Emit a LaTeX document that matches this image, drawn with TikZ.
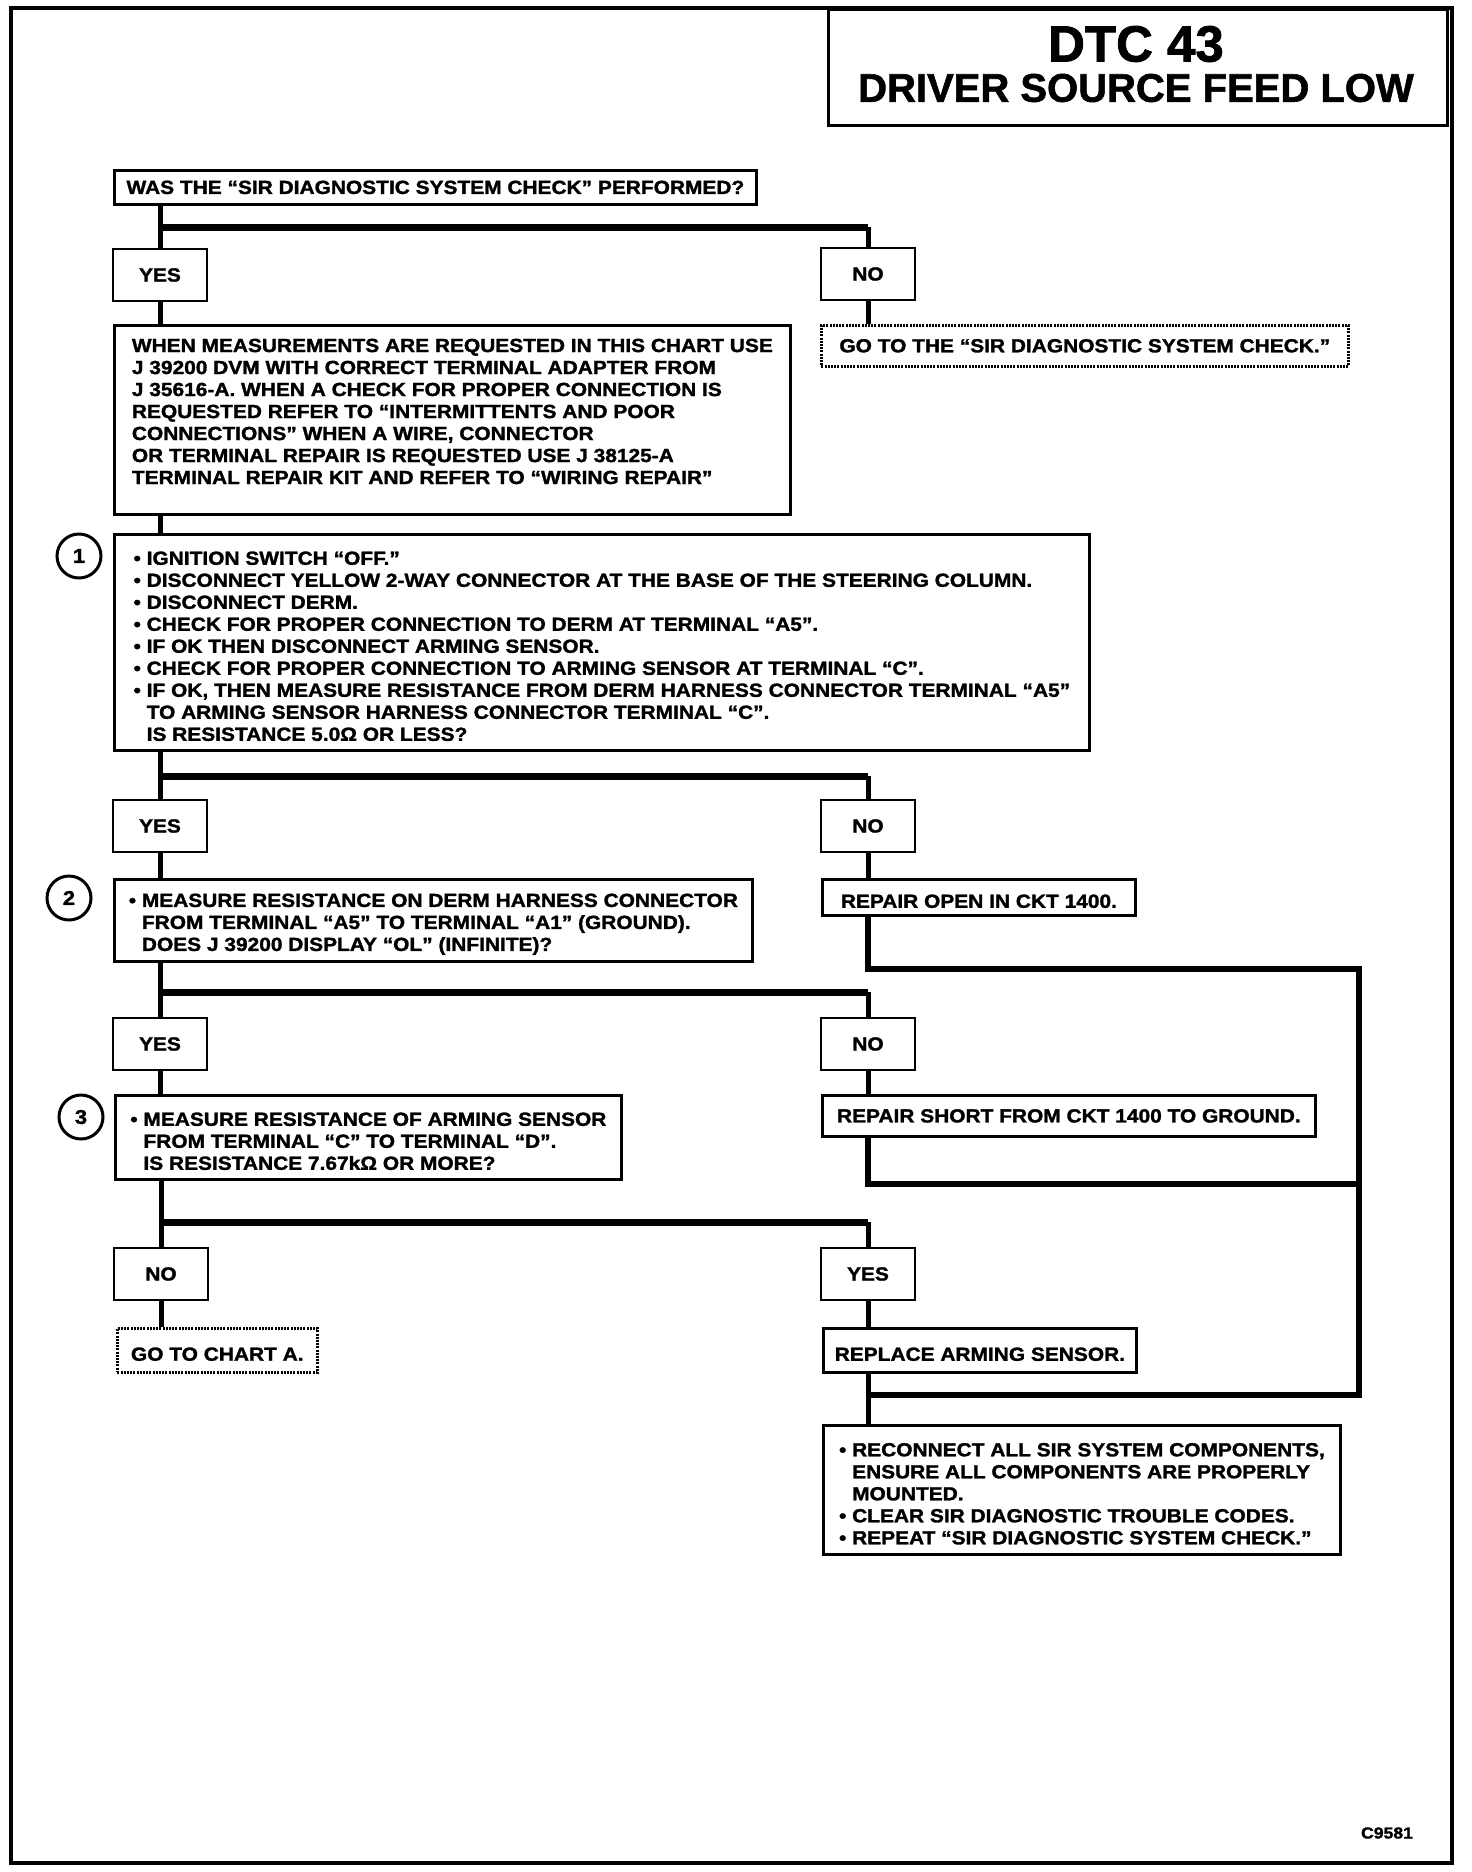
\documentclass[tikz,border=0pt]{standalone}
\usepackage{fontspec}
\setmainfont{Liberation Sans}[FakeStretch=1.1, BoldFeatures={FakeBold=1.5}]
\newfontfamily\titlefont{Liberation Sans}[BoldFeatures={FakeBold=1.5}]
\newcommand{\bul}{•\ }
\newcommand{\hang}{\hphantom{\bul}}
\newcommand{\topgap}{\rule{0pt}{21pt}}
\tikzset{
box/.style={draw, line width=2.8pt, anchor=north west, align=left, inner sep=0pt,
	font=\bfseries\fontsize{19}{22}\selectfont},
gotobox/.style={box, line width=2.6pt, dash pattern=on 2pt off 1.2pt},
answer/.style={draw, line width=2.8pt, minimum width=94pt, minimum height=52pt,
	inner sep=0pt, font=\bfseries\fontsize{19}{22}\selectfont},
stepnum/.style={draw, circle, line width=3pt, minimum size=44pt, inner sep=0pt,
	font=\bfseries\fontsize{20}{20}\selectfont},
conn/.style={line width=5pt},
bar/.style={line width=7pt},
backline/.style={line width=6pt, line join=miter}
}

\begin{document}
\begin{tikzpicture}[x=1pt, y=-1pt]
	\useasboundingbox (0,0) rectangle (1472,1872);
	\draw[line width=3.5pt] (11,8) rectangle (1452,1863);
	\node[draw, line width=3pt, anchor=north west, minimum width=619pt,
		minimum height=116pt] (title) at (827,8) {};
	\node[font=\titlefont\bfseries\fontsize{51}{51}\selectfont] (dtc) at (1136,44) {DTC 43};
	\node[font=\titlefont\bfseries\fontsize{40}{40}\selectfont] (dsfl) at (1136,88)
		{DRIVER SOURCE FEED LOW};

	\node[box, minimum width=642pt, minimum height=34pt] (q0) at (113,169)
		{WAS THE “SIR DIAGNOSTIC SYSTEM CHECK” PERFORMED?};
	\node[answer] (yes1) at (160,275) {YES};
	\node[answer] (no1) at (868,274) {NO};
	\node[box, minimum width=676pt, minimum height=189pt] (info) at (113,324)
		{WHEN MEASUREMENTS ARE REQUESTED IN THIS CHART USE\\
		J 39200 DVM WITH CORRECT TERMINAL ADAPTER FROM\\
		J 35616-A. WHEN A CHECK FOR PROPER CONNECTION IS\\
		REQUESTED REFER TO “INTERMITTENTS AND POOR\\
		CONNECTIONS” WHEN A WIRE, CONNECTOR\\
		OR TERMINAL REPAIR IS REQUESTED USE J 38125-A\\
		TERMINAL REPAIR KIT AND REFER TO “WIRING REPAIR”\\[-5pt]~};
	\node[gotobox, minimum width=527pt, minimum height=41pt] (gosir) at (820,324)
		{GO TO THE “SIR DIAGNOSTIC SYSTEM CHECK.”};

	\node[stepnum] (c1) at (79,556) {1};
	\node[box, minimum width=975pt, minimum height=216pt] (box1) at (113,533)
		{\topgap\bul IGNITION SWITCH “OFF.”\\
		\bul DISCONNECT YELLOW 2-WAY CONNECTOR AT THE BASE OF THE STEERING COLUMN.\\
		\bul DISCONNECT DERM.\\
		\bul CHECK FOR PROPER CONNECTION TO DERM AT TERMINAL “A5”.\\
		\bul IF OK THEN DISCONNECT ARMING SENSOR.\\
		\bul CHECK FOR PROPER CONNECTION TO ARMING SENSOR AT TERMINAL “C”.\\
		\bul IF OK, THEN MEASURE RESISTANCE FROM DERM HARNESS CONNECTOR TERMINAL “A5”\\
		\hang TO ARMING SENSOR HARNESS CONNECTOR TERMINAL “C”.\\
		\hang IS RESISTANCE 5.0Ω OR LESS?};
	\node[answer] (yes2) at (160,826) {YES};
	\node[answer] (no2) at (868,826) {NO};

	\node[stepnum] (c2) at (69,898) {2};
	\node[box, minimum width=638pt, minimum height=82pt] (box2) at (113,878)
		{\topgap\bul MEASURE RESISTANCE ON DERM HARNESS CONNECTOR\\
		\hang FROM TERMINAL “A5” TO TERMINAL “A1” (GROUND).\\
		\hang DOES J 39200 DISPLAY “OL” (INFINITE)?};
	\node[box, minimum width=313pt, minimum height=36pt] (open) at (821,878)
		{\topgap REPAIR OPEN IN CKT 1400.};
	\node[answer] (yes3) at (160,1044) {YES};
	\node[answer] (no3) at (868,1044) {NO};

	\node[stepnum] (c3) at (81,1117) {3};
	\node[box, minimum width=506pt, minimum height=84pt] (box3) at (114,1094)
		{\topgap\bul MEASURE RESISTANCE OF ARMING SENSOR\\
		\hang FROM TERMINAL “C” TO TERMINAL “D”.\\
		\hang IS RESISTANCE 7.67kΩ OR MORE?};
	\node[box, minimum width=493pt, minimum height=41pt] (short) at (821,1094)
		{REPAIR SHORT FROM CKT 1400 TO GROUND.};
	\node[answer] (no4) at (161,1274) {NO};
	\node[answer] (yes4) at (868,1274) {YES};

	\node[gotobox, minimum width=200pt, minimum height=44pt] (charta) at (116,1327)
		{\topgap GO TO CHART A.};
	\node[box, minimum width=313pt, minimum height=44pt] (replace) at (822,1327)
		{\topgap REPLACE ARMING SENSOR.};
	\node[box, minimum width=517pt, minimum height=129pt] (final) at (822,1424)
		{\topgap\bul RECONNECT ALL SIR SYSTEM COMPONENTS,\\
		\hang ENSURE ALL COMPONENTS ARE PROPERLY\\
		\hang MOUNTED.\\
		\bul CLEAR SIR DIAGNOSTIC TROUBLE CODES.\\
		\bul REPEAT “SIR DIAGNOSTIC SYSTEM CHECK.”};
	\node[font=\bfseries\fontsize{16}{16}\selectfont] (code) at (1387,1833) {C9581};

	\coordinate (s1) at (160,227);
	\coordinate (s2) at (160,776);
	\coordinate (s3) at (160,992);
	\coordinate (s4) at (160,1222);
	\coordinate (r1) at (1359,969);
	\coordinate (r2) at (1359,1184);
	\coordinate (j) at (868,1395);

	\draw[conn] (q0.south -| yes1) -- (yes1);
	\draw[bar] (s1) -- (s1 -| no1);
	\draw[conn] (s1 -| no1) -- (no1);
	\draw[conn] (yes1) -- (yes1 |- info.north);
	\draw[conn] (no1) -- (no1 |- gosir.north);
	\draw[conn] (info.south -| yes1) -- (box1.north -| yes1);

	\draw[conn] (box1.south -| yes2) -- (yes2);
	\draw[bar] (s2) -- (s2 -| no2);
	\draw[conn] (s2 -| no2) -- (no2);
	\draw[conn] (yes2) -- (yes2 |- box2.north);
	\draw[conn] (no2) -- (no2 |- open.north);
	\draw[backline] (open.south -| no2) |- (r1) |- (j);

	\draw[conn] (box2.south -| yes3) -- (yes3);
	\draw[bar] (s3) -- (s3 -| no3);
	\draw[conn] (s3 -| no3) -- (no3);
	\draw[conn] (yes3) -- (yes3 |- box3.north);
	\draw[conn] (no3) -- (no3 |- short.north);
	\draw[backline] (short.south -| no3) |- (r2);

	\draw[conn] (box3.south -| no4) -- (no4);
	\draw[bar] (s4) -- (s4 -| yes4);
	\draw[conn] (s4 -| yes4) -- (yes4);
	\draw[conn] (no4) -- (no4 |- charta.north);
	\draw[conn] (yes4) -- (yes4 |- replace.north);
	\draw[conn] (replace.south -| yes4) -- (final.north -| yes4);
\end{tikzpicture}
\end{document}
